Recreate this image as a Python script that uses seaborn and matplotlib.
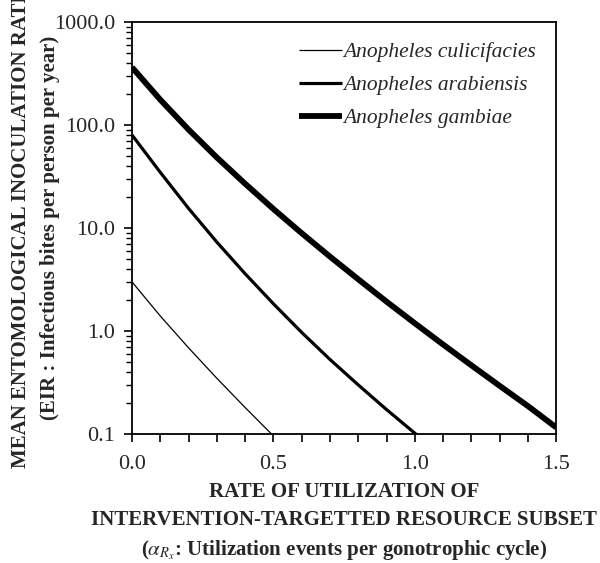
import numpy as np
import pandas as pd
import matplotlib
matplotlib.use("Agg")
import matplotlib.pyplot as plt
from matplotlib.ticker import MultipleLocator, FixedLocator, FuncFormatter, LogLocator, NullFormatter
import seaborn as sns

# Data (EIR vs utilization rate, log scale)
culicifacies_x = [0.0, 0.1, 0.2, 0.3, 0.4, 0.5]
culicifacies_y = [3.0, 1.40, 0.687, 0.348, 0.181, 0.096]

arabiensis_x = [0.0, 0.1, 0.2, 0.3, 0.4, 0.5, 0.6, 0.7, 0.8, 0.9, 1.0, 1.01]
arabiensis_y = [80.0, 34.7, 15.5, 7.3, 3.6, 1.84, 0.97, 0.53, 0.30, 0.173, 0.102, 0.097]

gambiae_x = [0.0, 0.1, 0.2, 0.3, 0.4, 0.5, 0.6, 0.7, 0.8, 0.9, 1.0, 1.1, 1.2, 1.3, 1.4, 1.5]
gambiae_y = [363.0, 176.0, 90.2, 48.4, 26.9, 15.3, 8.91, 5.28, 3.18, 1.93, 1.19, 0.74,
             0.465, 0.294, 0.187, 0.116]

species = ["Anopheles culicifacies", "Anopheles arabiensis", "Anopheles gambiae"]
widths = [0.9, 2.3, 4.2]

y_ticks = [0.1, 1.0, 10.0, 100.0, 1000.0]
x_ticks = [0.0, 0.5, 1.0, 1.5]

sns.set_style("ticks")
plt.rcParams["font.family"] = ["Liberation Serif", "DejaVu Serif"]
plt.rcParams["mathtext.fontset"] = "stix"

fig = plt.figure(figsize=(6.0, 5.63), dpi=100)
ax = fig.add_axes([0.22, 0.229, 0.707, 0.732])

series = [(culicifacies_x, culicifacies_y), (arabiensis_x, arabiensis_y), (gambiae_x, gambiae_y)]
for (xs, ys), name, lw in zip(series, species, widths):
    df = pd.DataFrame({"x": xs, "y": ys})
    sns.lineplot(data=df, x="x", y="y", ax=ax, color="black", linewidth=lw,
                 label=name, solid_capstyle="butt", solid_joinstyle="round")

ax.set_yscale("log")
ax.set_ylim(0.1, 1000)
ax.set_xlim(0, 1.5)

ax.yaxis.set_major_locator(FixedLocator(y_ticks))
ax.yaxis.set_major_formatter(FuncFormatter(lambda v, p: f"{v:.1f}"))
ax.yaxis.set_minor_locator(LogLocator(base=10, subs=np.arange(2, 10)))
ax.yaxis.set_minor_formatter(NullFormatter())

ax.xaxis.set_major_locator(FixedLocator(x_ticks))
ax.xaxis.set_major_formatter(FuncFormatter(lambda v, p: f"{v:.1f}"))
ax.xaxis.set_minor_locator(MultipleLocator(0.1))

ax.tick_params(axis="both", which="major", direction="out", length=6, width=1.2,
               labelsize=16, color="black", pad=6)
ax.tick_params(axis="x", which="major", pad=9)
ax.tick_params(axis="y", which="minor", direction="out", length=4, width=1.0, color="black")
ax.tick_params(axis="x", which="minor", direction="out", length=6, width=1.2, color="black")

for s in ax.spines.values():
    s.set_visible(True)
    s.set_linewidth(1.3)
    s.set_color("black")

ax.set_xlabel("RATE OF UTILIZATION OF\nINTERVENTION-TARGETTED RESOURCE SUBSET\n"
              r"($\alpha_{R_x}$: Utilization events per gonotrophic cycle)",
              fontsize=15, fontweight="bold", linespacing=1.5, labelpad=6)
ax.set_ylabel("MEAN ENTOMOLOGICAL INOCULATION RATE\n(EIR : Infectious bites per person per year)",
              fontsize=15, fontweight="bold", linespacing=1.55, labelpad=-4)

leg = ax.legend(loc="upper right", frameon=False, fontsize=15.5, handlelength=2.0,
                handletextpad=0.05, labelspacing=0.6, borderaxespad=0.55)
for t in leg.get_texts():
    t.set_fontstyle("italic")

fig.savefig("out.png", dpi=100)
